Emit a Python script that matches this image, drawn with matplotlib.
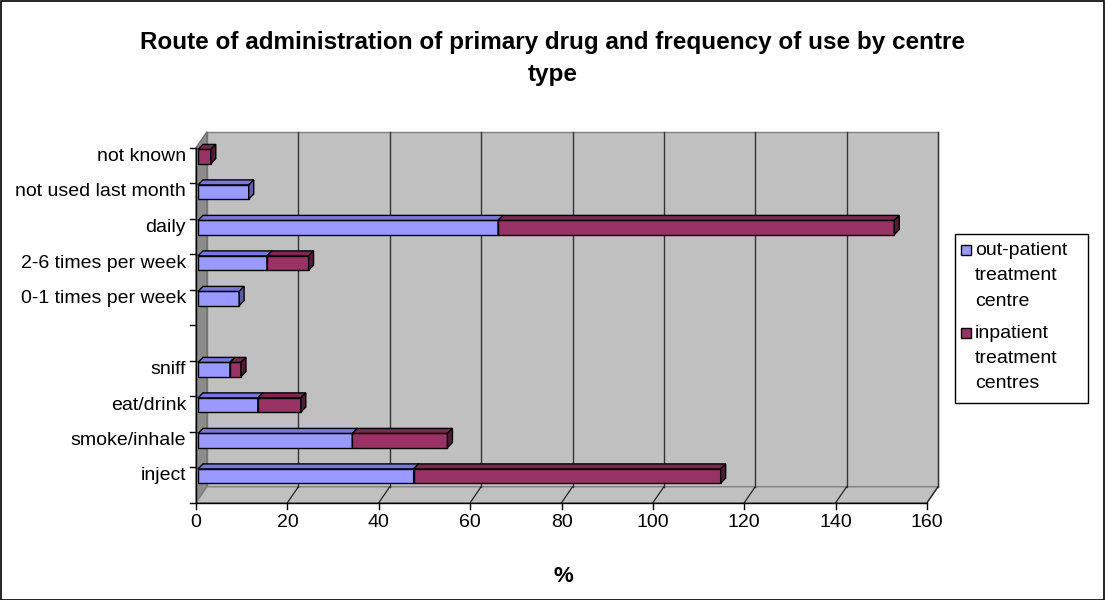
# -*- coding: utf-8
import numpy as np
import matplotlib
matplotlib.use("Agg")
import matplotlib.pyplot as plt
from matplotlib.patches import Polygon, Rectangle
from matplotlib.transforms import offset_copy, IdentityTransform

# データ
categories = ["inject", "smoke/inhale", "eat/drink", "sniff", "",
              "0-1 times per week", "2-6 times per week", "daily",
              "not used last month", "not known"]
outpatient = [47.2, 33.8, 13.1, 7.0, 0, 9.0, 15.1, 65.7, 11.1, 0]
inpatient = [67.2, 20.8, 9.4, 2.4, 0, 0, 9.1, 86.7, 0, 2.8]
series_names = ["out-patient\ntreatment\ncentre", "inpatient\ntreatment\ncentres"]
x_ticks = [0, 20, 40, 60, 80, 100, 120, 140, 160]

# 色 (正面, 上面, 側面)
blue = ("#9999FF", "#7878D8", "#5E5EA8")
red = ("#993366", "#7A2850", "#521B36")

plt.rcParams['font.family'] = ['Liberation Sans', 'DejaVu Sans']

W, H = 1105, 600
fig = plt.figure(figsize=(W / 100, H / 100), dpi=100)

def fx(px):
    return px / W

def fy(py):
    return 1 - py / H

# バーの層
ax = fig.add_axes([fx(198), fy(493.75), fx(929) - fx(198), (493.75 - 138.75) / H])
ax.set_xlim(0, 160)
ax.set_ylim(-0.5, 9.5)
ax.axis("off")

front = offset_copy(ax.transData, fig, x=-2, y=-9, units='dots')
back = offset_copy(ax.transData, fig, x=9, y=7, units='dots')
ident = IdentityTransform()
ymin, ymax = -0.5, 9.5

def disp(tr, pts):
    return tr.transform(np.array(pts, dtype=float))

# 奥の壁
bw = disp(back, [(0, ymin), (160, ymin), (160, ymax), (0, ymax)])
ax.add_patch(Polygon(bw, closed=True, transform=ident, facecolor="#C0C0C0",
                     edgecolor="#808080", lw=1, zorder=0, clip_on=False))
# 左の壁
lw_pts = np.vstack([disp(front, [(0, ymin), (0, ymax)]), disp(back, [(0, ymax), (0, ymin)])])
ax.add_patch(Polygon(lw_pts, closed=True, transform=ident, facecolor="#8C8C8C",
                     edgecolor="#707070", lw=1, zorder=0.5, clip_on=False))
# 床
fl = np.vstack([disp(front, [(0, ymin), (160, ymin)]), disp(back, [(160, ymin), (0, ymin)])])
ax.add_patch(Polygon(fl, closed=True, transform=ident, facecolor="#C0C0C0",
                     edgecolor="#808080", lw=1, zorder=0.5, clip_on=False))

# グリッド
for v in x_ticks[1:]:
    p = disp(back, [(v, ymin), (v, ymax)])
    ax.plot(p[:, 0], p[:, 1], transform=ident, color="#333333", lw=1, zorder=0.8, clip_on=False)
    q = np.vstack([disp(front, [(v, ymin)]), disp(back, [(v, ymin)])])
    ax.plot(q[:, 0], q[:, 1], transform=ident, color="#222222", lw=0.9, zorder=0.8, clip_on=False)

# 軸線
p = disp(front, [(0, ymin), (160, ymin)])
ax.plot(p[:, 0], p[:, 1], transform=ident, color="black", lw=1, zorder=5, clip_on=False)
p = disp(front, [(0, ymin), (0, ymax)])
ax.plot(p[:, 0], p[:, 1], transform=ident, color="black", lw=1, zorder=5, clip_on=False)
for v in x_ticks:
    p = disp(front, [(v, ymin)])[0]
    ax.plot([p[0], p[0]], [p[1], p[1] - 6], transform=ident, color="black", lw=1, clip_on=False)
    ax.text(v, ymin, str(v), transform=offset_copy(front, fig, y=-11, units='dots'),
            ha="center", va="top", fontsize=14)
for k in range(11):
    p = disp(front, [(0, k - 0.5)])[0]
    ax.plot([p[0], p[0] - 6], [p[1], p[1]], transform=ident, color="black", lw=1, clip_on=False)
for i, c in enumerate(categories):
    ax.text(0, i, c, transform=offset_copy(ax.transData, fig, x=-12, units='dots'),
            ha="right", va="center", fontsize=14)

# 3Dバー
bh = 0.4
dx, dy = 5, 5
left = np.zeros(len(categories))
z = 2
for vals, col in [(outpatient, blue), (inpatient, red)]:
    for i, v in enumerate(vals):
        if v <= 0:
            continue
        l, r = left[i], left[i] + v
        t, b = i + bh / 2, i - bh / 2
        ax.barh(i, v, left=l, height=bh, color=col[0], edgecolor="black", lw=1, zorder=z)
        tp = disp(ax.transData, [(l, t), (r, t)])
        top = np.vstack([tp, tp[::-1] + [dx, dy]])
        ax.add_patch(Polygon(top, closed=True, transform=ident, facecolor=col[1],
                             edgecolor="black", lw=1, zorder=z + 0.1, clip_on=False))
        sp = disp(ax.transData, [(r, b), (r, t)])
        side = np.vstack([sp, sp[::-1] + [dx, dy]])
        ax.add_patch(Polygon(side, closed=True, transform=ident, facecolor=col[2],
                             edgecolor="black", lw=1, zorder=z + 0.1, clip_on=False))
    left += np.array(vals)
    z += 1

# タイトル
fig.text(0.5, fy(43), "Route of administration of primary drug and frequency of use by centre",
         ha="center", va="center", fontsize=17.5, fontweight="bold")
fig.text(0.5, fy(74), "type", ha="center", va="center", fontsize=17.5, fontweight="bold")
fig.text(fx(563), fy(576), "%", ha="center", va="center", fontsize=16, fontweight="bold")

# 凡例
fig.patches.append(Rectangle((fx(955), fy(403)), fx(1088) - fx(955), (403 - 234) / H,
                             transform=fig.transFigure, facecolor="white", edgecolor="black", lw=1))
for name, col, y0 in [(series_names[0], blue, 250), (series_names[1], red, 333)]:
    fig.patches.append(Rectangle((fx(961), fy(y0 + 5)), 10 / W, 10 / H, transform=fig.transFigure,
                                 facecolor=col[0], edgecolor="black", lw=1))
    for j, line in enumerate(name.split("\n")):
        fig.text(fx(975), fy(y0 + j * 25.5), line, ha="left", va="center", fontsize=14)

# 外枠
fig.patches.append(Rectangle((0.5 / W, 0.5 / H), 1 - 1.5 / W, 1 - 1.5 / H, transform=fig.transFigure,
                             fill=False, edgecolor="black", lw=1.2))

fig.savefig("out.png", dpi=100)
